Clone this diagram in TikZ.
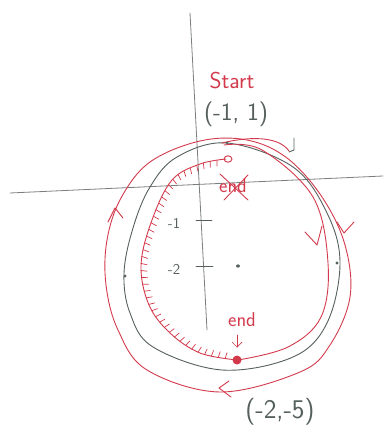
\documentclass[tikz,border=0pt]{standalone}
\usetikzlibrary{decorations.markings}
\definecolor{pen}{HTML}{D23A4C}
\definecolor{pencil}{HTML}{55605E}
\definecolor{axisgray}{HTML}{7A7F7E}
\begin{document}
\begin{tikzpicture}[x=1pt,y=-1pt, line cap=round, line join=round,
  redline/.style={draw=pen, line width=0.9pt},
  grayline/.style={draw=pencil, line width=0.9pt},
  axisline/.style={draw=axisgray, line width=0.8pt},
  redtext/.style={text=pen, font=\sffamily, inner sep=0pt},
  graytext/.style={text=pencil, font=\sffamily, inner sep=0pt},
  dotmark/.style={fill=pencil, draw=none},
  hatched/.style={redline, postaction={decorate, decoration={markings,
      mark=between positions 0.03 and 0.98 step 7pt with {\draw[pen, line width=0.7pt] (0,0) -- (1pt,6pt);}}}}
]
\useasboundingbox (0,0) rectangle (385,436);
% axes
\coordinate (ytop) at (190,13);
\coordinate (ybot) at (207,330);
\draw[axisline] (ytop) -- (ybot);
\coordinate (xl) at (10,193);
\coordinate (xr) at (383,176);
\draw[axisline] (xl) -- (xr);
% ticks
\coordinate (t1a) at (196,220); \coordinate (t1b) at (212,220);
\coordinate (t2a) at (196,266); \coordinate (t2b) at (213,266);
\draw[grayline] (t1a) -- (t1b);
\draw[grayline] (t2a) -- (t2b);
\node[graytext, font=\sffamily\fontsize{15}{17}\selectfont] (m1) at (174,223) {-1};
\node[graytext, font=\sffamily\fontsize{15}{17}\selectfont] (m2) at (174,269) {-2};
% gray circle
\draw[grayline] plot[smooth cycle, tension=0.6] coordinates {(227,143) (293,167) (327,213) (340,263) (327,323) (293,357) (222,370) (153,347) (130,313) (124,273) (133,228) (150,187) (177,157)};
% gray dots
\fill[dotmark] (238,266) ellipse (2pt and 1.6pt);
\fill[dotmark] (125,276) ellipse (1.6pt and 1.6pt);
\fill[dotmark] (337,263) ellipse (1.6pt and 1.6pt);
\draw[grayline] (294,138) -- (294,150) -- (289,152);
% outer red loop
\draw[redline] plot[smooth cycle, tension=0.6] coordinates {(200,141) (247,140) (287,158) (322,197) (345,245) (350,297) (330,345) (300,372) (220,392) (147,370) (118,330) (106,285) (107,240) (121,198) (150,162)};
% top red curl
\draw[redline] (222,143) .. controls (255,135) and (280,138) .. (289,151);
% inner red path start -> end along right side
\draw[redline] plot[smooth, tension=0.6] coordinates {(224,145) (262,150) (313,197) (328,263) (321,317) (288,347) (238,360)};
% hatched red arc on the left
\draw[hatched] plot[smooth, tension=0.6] coordinates {(226,159) (200,164) (172,180) (152,220) (141,265) (149,305) (170,333) (200,353) (237,360)};
\draw[redline] (228,159) ellipse (4pt and 3.2pt);
% arrow chevrons
\draw[redline] (108,222) -- (115,208) -- (123,218);
\draw[redline] (337,222) -- (344,233) -- (354,222);
\draw[redline] (305,232) -- (317,245) -- (322,226);
\draw[redline] (229,381) -- (219,388) -- (231,397);
% start point
\fill[pencil] (227,143) circle (1.4pt);
% end point
\fill[pen] (237,360) circle (4.5pt);
\node[redtext, font=\sffamily\fontsize{20}{22}\selectfont] (endlbl) at (242,320) {end};
\coordinate (ea) at (237,335);
\coordinate (eb) at (237,347);
\draw[redline, line width=0.7pt] (ea) -- (eb);
\draw[redline, line width=0.7pt] (232,342) -- (237,347) -- (242,342);
% crossed-out end
\node[redtext, font=\sffamily\fontsize{20}{22}\selectfont] (oldend) at (233,186) {end};
\draw[redline] (220,174) -- (248,200);
\draw[redline] (248,175) -- (224,200);
% labels
\node[redtext, font=\sffamily\fontsize{23}{26}\selectfont] (start) at (232,81) {Start};
\node[graytext, font=\sffamily\fontsize{25}{28}\selectfont] (p1) at (236,114) {(-1, 1)};
\node[graytext, font=\sffamily\fontsize{27}{30}\selectfont] (p2) at (280,412) {(-2,-5)};
\end{tikzpicture}
\end{document}
